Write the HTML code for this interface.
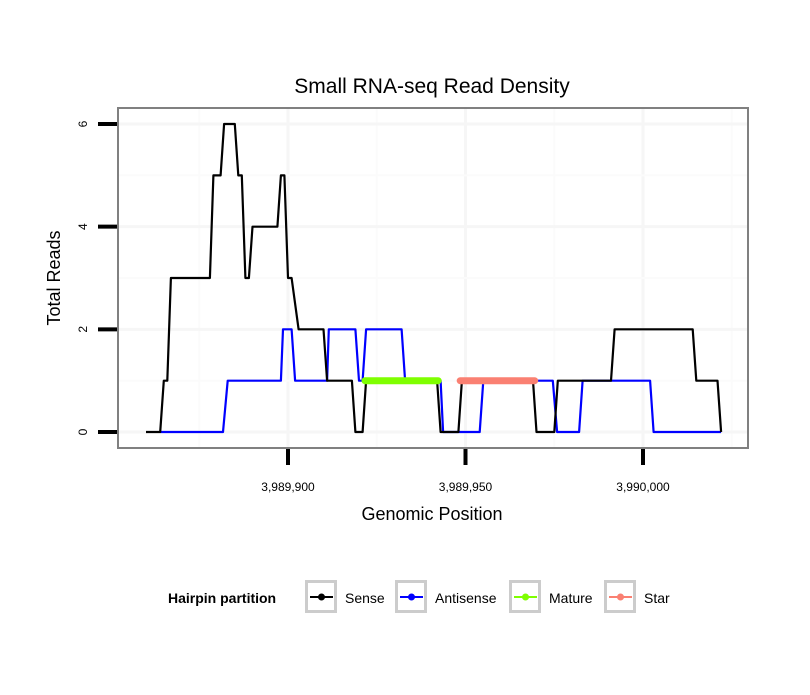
<!DOCTYPE html>
<html><head><meta charset="utf-8"><style>
body{margin:0;background:#fff;}
svg text{font-family:"Liberation Sans",sans-serif;}
</style></head><body>
<svg id="c" width="810" height="690" xmlns="http://www.w3.org/2000/svg">
<text x="432" y="93" text-anchor="middle" font-size="21">Small RNA-seq Read Density</text>
<g id="grid"></g>
<g id="series"></g>
<rect x="118" y="108" width="630" height="340" fill="none" stroke="#808080" stroke-width="2"/>
<g id="axes"></g>
<text x="432" y="520" text-anchor="middle" font-size="18">Genomic Position</text>
<text transform="translate(60,278) rotate(-90)" text-anchor="middle" font-size="18">Total Reads</text>
<g id="legend"></g>
</svg>
<script>
const senseX=[3989860,3989864,3989865,3989866,3989867,3989878,3989879,3989881,3989882,3989885,3989886,3989887,3989888,3989889,3989890,3989897,3989898,3989899,3989900,3989901,3989903,3989910,3989911,3989918,3989919,3989921,3989922,3989942,3989943,3989948,3989949,3989969,3989970,3989975,3989976,3989991,3989992,3990014,3990015,3990021,3990022];
const senseY=[0,0,1,1,3,3,5,5,6,6,5,5,3,3,4,4,5,5,3,3,2,2,1,1,0,0,1,1,0,0,1,1,0,0,1,1,2,2,1,1,0];
const antiX=[3989864,3989881.7,3989883,3989898,3989898.6,3989901,3989902,3989911,3989911.5,3989919,3989920,3989921,3989922,3989923,3989932,3989933,3989943,3989943.7,3989954,3989955,3989974.6,3989975.8,3989982,3989983,3990002,3990003,3990022];
const antiY=[0,0,1,1,2,2,1,1,2,2,1,1,2,2,2,1,1,0,0,1,1,0,0,1,1,0,0];
const matureX=[3989921.7,3989942.3];
const matureY=[1,1];
const starX=[3989948.5,3989969.5];
const starY=[1,1];
const xTicks=[3989900,3989950,3990000];
const xTickLabels=["3,989,900","3,989,950","3,990,000"];
const yTicks=[0,2,4,6];
const yTickLabels=["0","2","4","6"];
const legendLabels=["Sense","Antisense","Mature","Star"];
const legendColors=["#000000","#0000ff","#7fff00","#fa8072"];

const sx=v=>288+(v-3989900)*3.55;
const sy=v=>432-v*51.33;
const NS="http://www.w3.org/2000/svg";
function mk(tag,parent,attrs){const e=document.createElementNS(NS,tag);for(const k in attrs)e.setAttribute(k,attrs[k]);parent.appendChild(e);return e;}
const grid=document.getElementById('grid'),series=document.getElementById('series'),axes=document.getElementById('axes'),legend=document.getElementById('legend');
for(let v=3989875;v<=3990025;v+=25){const x=sx(v);if(x<119||x>747)continue;const major=(v%50===0);
const g=mk('line',grid,{x1:x,x2:x,y1:109,y2:447,stroke:major?'#f6f6f6':'#fbfbfb','stroke-width':major?3:2});
}
for(let v=0;v<=6.5;v+=1){const y=sy(v);const major=(v%2===0);
const g=mk('line',grid,{x1:119,x2:747,y1:y,y2:y,stroke:major?'#f6f6f6':'#fbfbfb','stroke-width':major?3:2});
}
function path(xs,ys,color,w,name,cap){let d=xs.map((v,i)=>(i?'L':'M')+sx(v).toFixed(1)+','+sy(ys[i]).toFixed(1)).join(' ');
const p=mk('path',series,{d:d,fill:'none',stroke:color,'stroke-width':w,'stroke-linecap':cap,'stroke-linejoin':'round'});
}
path(antiX,antiY,'#0000ff',2.2,'antisense-line','butt');
path(senseX,senseY,'#000000',2.2,'sense-line','butt');
path(matureX,matureY,'#7fff00',7,'mature-segment','round');
path(starX,starY,'#fa8072',7,'star-segment','round');
xTicks.forEach((v,i)=>{const x=sx(v);
const t=mk('line',axes,{x1:x,x2:x,y1:449,y2:465,stroke:'#000','stroke-width':4});

const l=mk('text',axes,{x:x,y:491,'text-anchor':'middle','font-size':12});l.textContent=xTickLabels[i];
});
yTicks.forEach((v,i)=>{const y=sy(v);
const t=mk('line',axes,{x1:98,x2:117,y1:y,y2:y,stroke:'#000','stroke-width':4});

const l=mk('text',axes,{transform:`translate(87,${y}) rotate(-90)`,'text-anchor':'middle','font-size':12});l.textContent=yTickLabels[i];
});
const lt=mk('text',legend,{x:168,y:603,'font-size':14,'font-weight':'bold'});lt.textContent='Hairpin partition';

const bx=[305,395,509,604];
legendLabels.forEach((lab,i)=>{const g=mk('g',legend,{});

mk('rect',g,{x:bx[i]+1.5,y:581.5,width:29,height:30,fill:'#fff',stroke:'#cccccc','stroke-width':3});
mk('line',g,{x1:bx[i]+5,x2:bx[i]+28,y1:597,y2:597,stroke:legendColors[i],'stroke-width':2});
mk('circle',g,{cx:bx[i]+16.5,cy:597,r:3.5,fill:legendColors[i]});
const t=mk('text',g,{x:bx[i]+40,y:603,'font-size':14});t.textContent=lab;});
</script>
</body></html>
